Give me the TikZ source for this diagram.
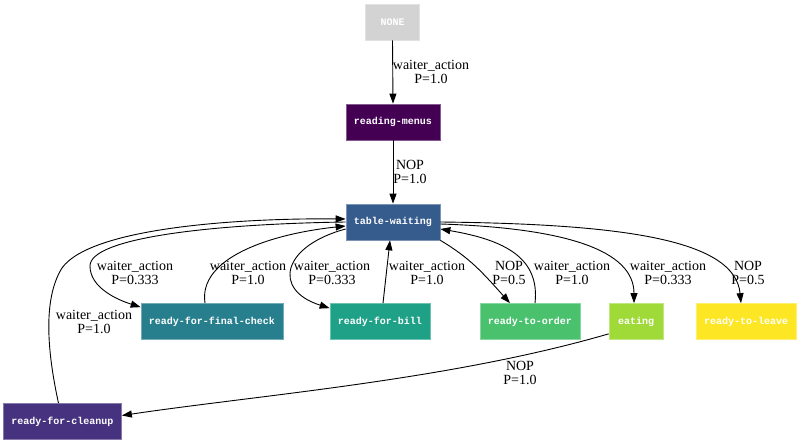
\documentclass[tikz,border=0pt]{standalone}
\usepackage{fontspec}
\setmainfont{Liberation Serif}
\newfontfamily\statefont{Liberation Mono}
\usetikzlibrary{arrows.meta,calc}

% viridis palette for the states
\definecolor{cnone}{HTML}{D3D3D3}
\definecolor{cmenus}{HTML}{440154}
\definecolor{ccleanup}{HTML}{46327E}
\definecolor{cwaiting}{HTML}{365C8D}
\definecolor{ccheck}{HTML}{277F8E}
\definecolor{cbill}{HTML}{1FA187}
\definecolor{corder}{HTML}{4AC16D}
\definecolor{ceating}{HTML}{A0DA39}
\definecolor{cleave}{HTML}{FDE725}

\tikzset{
  state/.style={rectangle, fill=#1, draw=#1!65!white, line width=0.7pt,
    text=white, font=\statefont\bfseries\fontsize{10}{12}\selectfont,
    minimum width=54pt, minimum height=36pt, inner xsep=8pt, inner ysep=0pt},
  trans/.style={draw=black, line width=0.9pt,
    -{Triangle[length=10pt,width=7pt]}},
  elabel/.style={align=center, inner sep=0pt,
    font=\fontsize{14}{14}\selectfont},
}

\begin{document}
\begin{tikzpicture}[x=1pt,y=-1pt]
\useasboundingbox (0,0) rectangle (800,444);

% states
\node[state=cnone]    (none)    at (392.5,22)   {NONE};
\node[state=cmenus]   (menus)   at (393,122)    {reading-menus};
\node[state=cwaiting] (waiting) at (393,222)    {table-waiting};
\node[state=ccheck]   (check)   at (212,321.5)  {ready-for-final-check};
\node[state=cbill]    (bill)    at (380,321.5)  {ready-for-bill};
\node[state=corder]   (order)   at (530,321.5)  {ready-to-order};
\node[state=ceating]  (eating)  at (636,321.5)  {eating};
\node[state=cleave]   (leave)   at (746,321.5)  {ready-to-leave};
\node[state=ccleanup] (cleanup) at (62.5,421.5) {ready-for-cleanup};

% transitions
\draw[trans] (none.south) -- (menus.north);
\draw[trans] (menus.south) -- (waiting.north);

\draw[trans] (waiting.west)
  .. controls (210,224) and (90,238) .. (90,266)
  .. controls (90,288) and (118,300) .. ($(check.north west)+(0,4)$);
\draw[trans] ($(check.north)+(-7,0)$)
  .. controls (198,258) and (270,234) .. ($(waiting.west)+(0,4)$);
\draw[trans] ($(waiting.west)+(0,7)$)
  .. controls (282,246) and (272,290) .. ($(bill.north west)+(0,5)$);
\draw[trans] ($(bill.north)+(3,0)$) -- ($(waiting.south)+(-3,0)$);

\draw[trans] (waiting.south east)
  .. controls (470,258) and (482,272) .. ($(order.north)+(-20,0)$);
\draw[trans] ($(order.north)+(5,0)$)
  .. controls (540,258) and (505,240) .. ($(waiting.east)+(0,7)$);
\draw[trans] ($(waiting.east)+(0,2)$)
  .. controls (565,228) and (634,250) .. ($(eating.north)+(-2,0)$);
\draw[trans] (waiting.east)
  .. controls (625,224) and (735,240) .. ($(leave.north)+(-5,0)$);

\draw[trans] ($(eating.south west)+(0,-6)$)
  .. controls (450,380) and (260,395) .. ($(cleanup.east)+(0,-6)$);
\draw[trans] ($(cleanup.north)+(-4,0)$)
  .. controls (48,355) and (42,300) .. (62,268)
  .. controls (92,226) and (250,218) .. ($(waiting.west)+(0,-3)$);

% transition labels
\node[elabel] (l1)  at (431,72)  {waiter\_action\\P=1.0};
\node[elabel] (l2)  at (410,172) {NOP\\P=1.0};
\node[elabel] (l3)  at (135,273) {waiter\_action\\P=0.333};
\node[elabel] (l4)  at (248,273) {waiter\_action\\P=1.0};
\node[elabel] (l5)  at (332,273) {waiter\_action\\P=0.333};
\node[elabel] (l6)  at (427,273) {waiter\_action\\P=1.0};
\node[elabel] (l7)  at (509,273) {NOP\\P=0.5};
\node[elabel] (l8)  at (572,273) {waiter\_action\\P=1.0};
\node[elabel] (l9)  at (668,273) {waiter\_action\\P=0.333};
\node[elabel] (l10) at (748,273) {NOP\\P=0.5};
\node[elabel] (l11) at (520,373) {NOP\\P=1.0};
\node[elabel] (l12) at (94,322)  {waiter\_action\\P=1.0};
\end{tikzpicture}
\end{document}
